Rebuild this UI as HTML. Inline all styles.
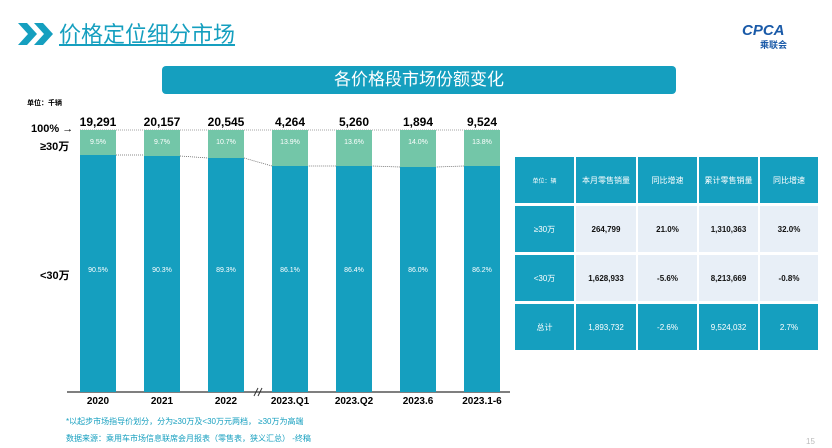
<!DOCTYPE html>
<html><head><meta charset="utf-8"><style>
*{margin:0;padding:0;box-sizing:border-box}
body{width:832px;height:448px;background:#fff;position:relative;overflow:hidden;font-family:"Liberation Sans","Noto Sans CJK SC",sans-serif}
.a{position:absolute}
.bar{position:absolute;width:36px}
.g{background:#73c6a8;color:#fff;font-size:7px;text-align:center;padding-top:9px}
.b{background:#159fbf;color:#fff;font-size:7px;text-align:center}
.v{position:absolute;font-size:12px;font-weight:bold;width:60px;text-align:center;top:115px}
.x{position:absolute;font-size:10px;font-weight:bold;width:70px;text-align:center;top:396px}
.c{position:absolute;display:flex;align-items:center;justify-content:center;font-size:8px;text-align:center}
.h{background:#159fbf;color:#fff}
.l{background:#e8eff7;color:#111;font-weight:bold}
</style></head><body>
<svg class="a" style="left:18px;top:21px" width="40" height="26"><polygon points="0,2 9,2 19,13 9,24 0,24 10,13" fill="#159fbf"/><polygon points="16,2 25,2 35,13 25,24 16,24 26,13" fill="#159fbf"/></svg>
<div class="a" style="left:59px;top:17px;font-size:22px;color:#159fbf;text-decoration:underline;letter-spacing:0px">价格定位细分市场</div>
<div class="a" style="left:742px;top:22px;color:#1a5aa8;font-weight:bold;font-style:italic;font-size:15px">CPCA</div>
<div class="a" style="left:760px;top:38px;color:#1a5aa8;font-size:9px;font-weight:bold">乘联会</div>
<div class="a" style="left:162px;top:66px;width:514px;height:28px;background:#159fbf;border-radius:4px;color:#fff;font-size:17px;text-align:center;line-height:28px">各价格段市场份额变化</div>
<div class="a" style="left:27px;top:98px;font-size:7px;font-weight:bold">单位：千辆</div>
<div class="a" style="left:31px;top:123px;font-size:11px;font-weight:bold">100% →</div>
<div class="a" style="left:40px;top:138px;font-size:11px;font-weight:bold">≥30万</div>
<div class="a" style="left:40px;top:267px;font-size:11px;font-weight:bold">&lt;30万</div>
<svg class="a" style="left:0;top:0" width="832" height="448">
<polyline points="80,130 500,130" stroke="#888" stroke-dasharray="1,1" fill="none" stroke-width="0.8"/>
<polyline points="116,155 144,155 180,156 208,158 244,158 272,166 308,166 336,166 372,166 400,167 436,167 464,166 500,166" stroke="#666" stroke-dasharray="1,1" fill="none" stroke-width="0.8"/>
<line x1="67" y1="392" x2="510" y2="392" stroke="#333" stroke-width="1.2"/>
<line x1="254" y1="396" x2="258" y2="388" stroke="#333"/><line x1="258" y1="396" x2="262" y2="388" stroke="#333"/>
</svg>
<div class="bar g" style="left:80px;top:130px;height:25px">9.5%</div><div class="bar b" style="left:80px;top:155px;height:237px;padding-top:112px">90.5%</div>
<div class="bar g" style="left:144px;top:130px;height:26px">9.7%</div><div class="bar b" style="left:144px;top:156px;height:236px;padding-top:111px">90.3%</div>
<div class="bar g" style="left:208px;top:130px;height:28px">10.7%</div><div class="bar b" style="left:208px;top:158px;height:234px;padding-top:109px">89.3%</div>
<div class="bar g" style="left:272px;top:130px;height:36px">13.9%</div><div class="bar b" style="left:272px;top:166px;height:226px;padding-top:101px">86.1%</div>
<div class="bar g" style="left:336px;top:130px;height:36px">13.6%</div><div class="bar b" style="left:336px;top:166px;height:226px;padding-top:101px">86.4%</div>
<div class="bar g" style="left:400px;top:130px;height:37px">14.0%</div><div class="bar b" style="left:400px;top:167px;height:225px;padding-top:100px">86.0%</div>
<div class="bar g" style="left:464px;top:130px;height:36px">13.8%</div><div class="bar b" style="left:464px;top:166px;height:226px;padding-top:101px">86.2%</div>
<div class="v" style="left:68px">19,291</div><div class="v" style="left:132px">20,157</div><div class="v" style="left:196px">20,545</div><div class="v" style="left:260px">4,264</div><div class="v" style="left:324px">5,260</div><div class="v" style="left:388px">1,894</div><div class="v" style="left:452px">9,524</div>
<div class="x" style="left:63px">2020</div><div class="x" style="left:127px">2021</div><div class="x" style="left:191px">2022</div><div class="x" style="left:255px">2023.Q1</div><div class="x" style="left:319px">2023.Q2</div><div class="x" style="left:383px">2023.6</div><div class="x" style="left:447px">2023.1-6</div>
<div class="a" style="left:66px;top:416px;font-size:8px;color:#159fbf">*以起步市场指导价划分，分为≥30万及&lt;30万元两档， ≥30万为高端</div>
<div class="a" style="left:66px;top:433px;font-size:8px;color:#159fbf">数据来源：乘用车市场信息联席会月报表（零售表，狭义汇总） -终稿</div>
<div class="c h" style="left:515px;top:157px;width:59px;height:46px;font-size:6px">单位：辆</div>
<div class="c h" style="left:576px;top:157px;width:60px;height:46px">本月零售销量</div>
<div class="c h" style="left:638px;top:157px;width:59px;height:46px">同比增速</div>
<div class="c h" style="left:699px;top:157px;width:59px;height:46px">累计零售销量</div>
<div class="c h" style="left:760px;top:157px;width:58px;height:46px">同比增速</div>
<div class="c h" style="left:515px;top:206px;width:59px;height:46px">≥30万</div>
<div class="c l" style="left:576px;top:206px;width:60px;height:46px">264,799</div>
<div class="c l" style="left:638px;top:206px;width:59px;height:46px">21.0%</div>
<div class="c l" style="left:699px;top:206px;width:59px;height:46px">1,310,363</div>
<div class="c l" style="left:760px;top:206px;width:58px;height:46px">32.0%</div>
<div class="c h" style="left:515px;top:255px;width:59px;height:46px">&lt;30万</div>
<div class="c l" style="left:576px;top:255px;width:60px;height:46px">1,628,933</div>
<div class="c l" style="left:638px;top:255px;width:59px;height:46px">-5.6%</div>
<div class="c l" style="left:699px;top:255px;width:59px;height:46px">8,213,669</div>
<div class="c l" style="left:760px;top:255px;width:58px;height:46px">-0.8%</div>
<div class="c h" style="left:515px;top:304px;width:59px;height:46px">总计</div>
<div class="c h" style="left:576px;top:304px;width:60px;height:46px">1,893,732</div>
<div class="c h" style="left:638px;top:304px;width:59px;height:46px">-2.6%</div>
<div class="c h" style="left:699px;top:304px;width:59px;height:46px">9,524,032</div>
<div class="c h" style="left:760px;top:304px;width:58px;height:46px">2.7%</div>
<div class="a" style="left:806px;top:437px;font-size:8px;color:#bbb">15</div>
</body></html>
